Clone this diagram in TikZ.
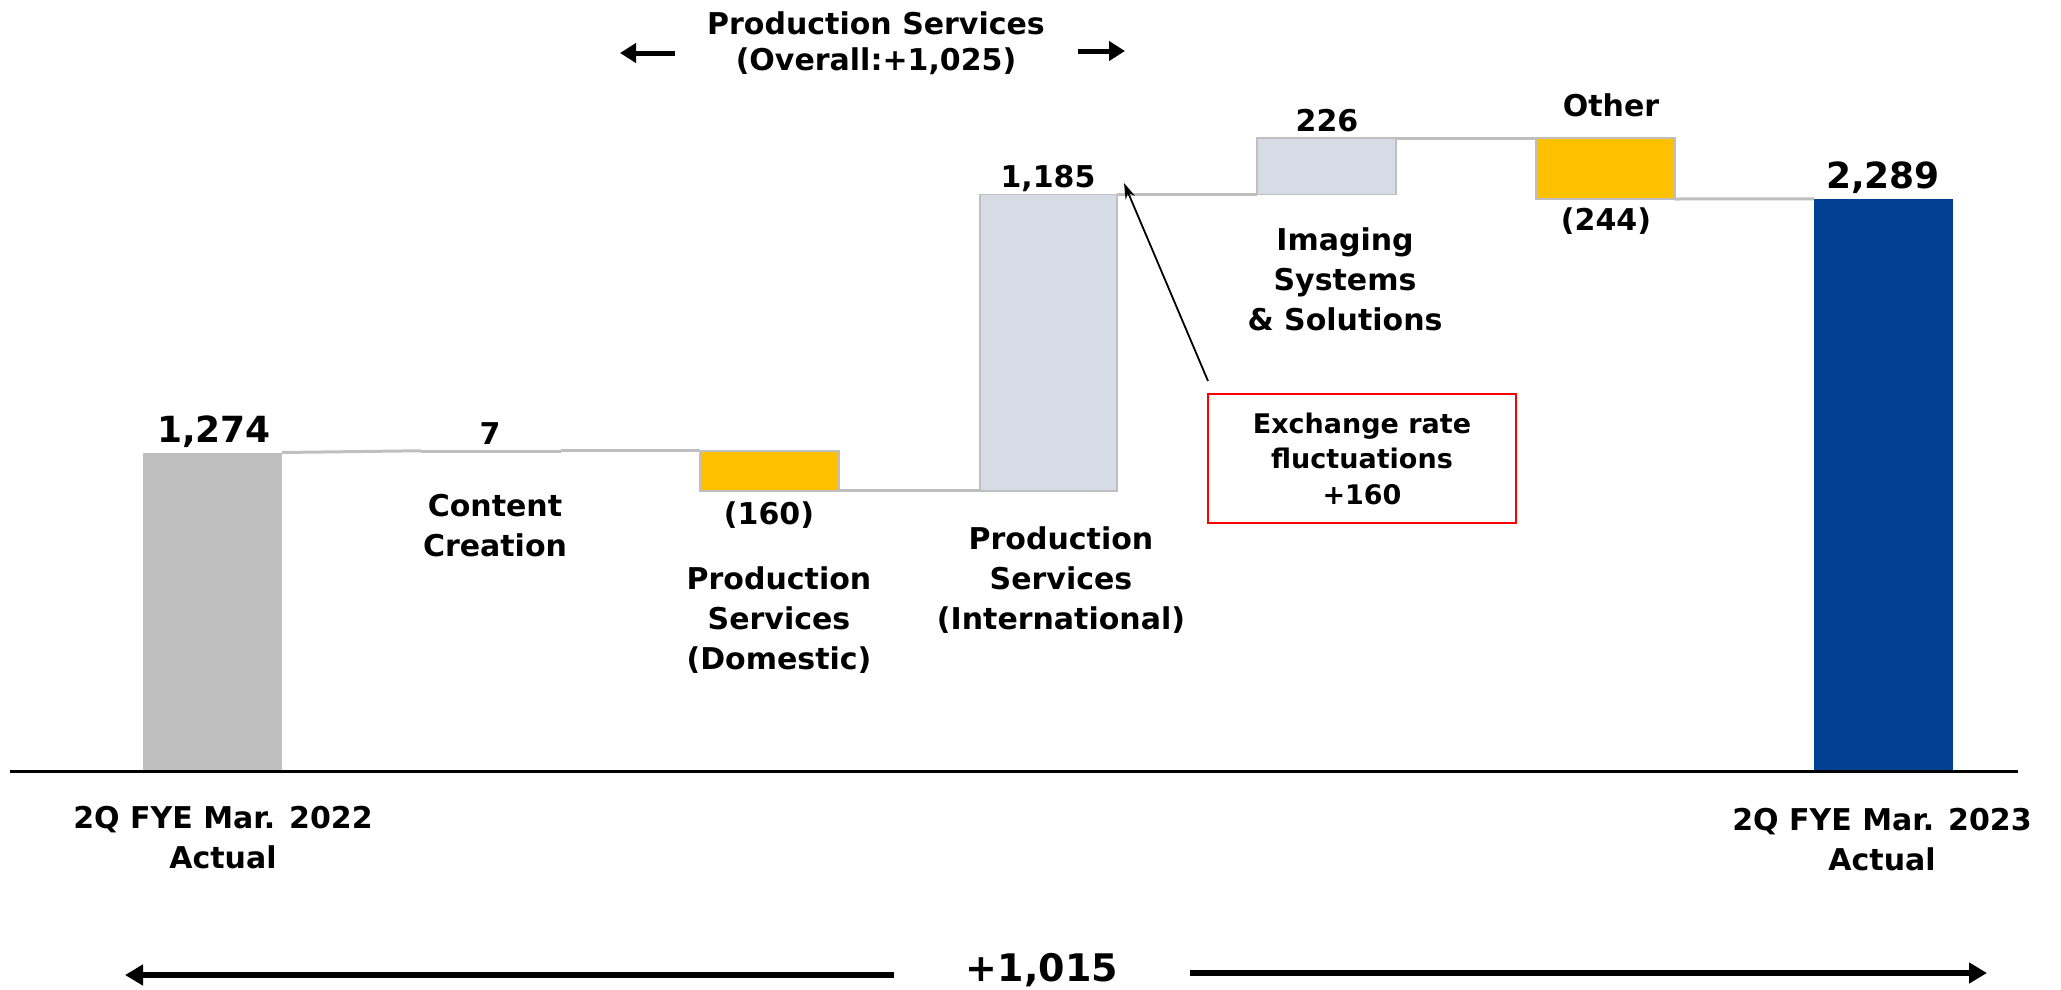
\documentclass[tikz,border=0pt]{standalone}
\usepackage{fontspec}
\setmainfont{DejaVu Sans}
\usetikzlibrary{arrows.meta}
\definecolor{barGray}{HTML}{BFBFBF}
\definecolor{barLight}{HTML}{D6DCE5}
\definecolor{barYellow}{HTML}{FFC000}
\definecolor{barBlue}{HTML}{003F91}
\definecolor{connGray}{HTML}{BFBFBF}
\definecolor{boxRed}{HTML}{FF0000}
\begin{document}
\begin{tikzpicture}[x=1pt,y=-1pt,
  bar/.style={rectangle, anchor=north west, inner sep=0pt, outer sep=0pt, minimum width=139pt},
  outl/.style={draw=connGray, line width=1.5pt},
  conn/.style={draw=connGray, line width=3pt},
  lbl/.style={inner sep=0pt, align=center, font=\bfseries\fontsize{30}{40}\selectfont},
  val/.style={inner sep=0pt, font=\bfseries\fontsize{30}{36}\selectfont},
  bigval/.style={inner sep=0pt, font=\bfseries\fontsize{36}{40}\selectfont},
  thickarrow/.style={line width=6pt, -{Triangle[length=18pt,width=20pt]}},
  smallarrow/.style={line width=5pt, -{Triangle[length=16pt,width=19pt]}},
  note/.style={-{Stealth[length=16pt,width=10pt]}, line width=1.8pt}
]
\useasboundingbox (0,0) rectangle (2061,989);

% bars
\node[bar, fill=barGray, minimum height=318.5pt] (b0) at (143,452.5) {};
\node[bar, fill=barLight, outl, minimum height=1.75pt] (b1) at (421.5,450.75) {};
\node[bar, fill=barYellow, outl, minimum height=40pt] (b2) at (700,450.75) {};
\node[bar, fill=barLight, outl, minimum width=137pt, minimum height=296.25pt] (b3) at (980,194.5) {};
\node[bar, fill=barLight, outl, minimum height=56.5pt] (b4) at (1257,138) {};
\node[bar, fill=barYellow, outl, minimum height=61pt] (b5) at (1536,138) {};
\node[bar, fill=barBlue, minimum height=572.25pt] (b6) at (1814,198.75) {};

% connectors between bars
\draw[conn] (b0.north east) -- (b1.north west);
\draw[conn] (b1.north east) -- (b2.north west);
\draw[conn] (b2.south east) -- (b3.south west);
\draw[conn] (b3.north east) -- (b4.south west);
\draw[conn] (b4.north east) -- (b5.north west);
\draw[conn] (b5.south east) -- (b6.north west);

% axis
\coordinate (axL) at (10,771);
\coordinate (axR) at (2018,771);
\draw[line width=3pt] (axL) -- (axR);

% values
\node[bigval] (v0) at (214,432) {1,274};
\node[val] (v1) at (490,434) {7};
\node[val] (v2) at (769,515) {(160)};
\node[val] (v3) at (1048,178) {1,185};
\node[val] (v4) at (1327,121) {226};
\node[val] (v5) at (1606,221) {(244)};
\node[bigval] (v6) at (1883,178) {2,289};

% category labels
\node[lbl] (l1) at (495,526) {Content\\Creation};
\node[lbl] (l2) at (779,620) {Production\\Services\\(Domestic)};
\node[lbl] (l3) at (1061,580) {Production\\Services\\(International)};
\node[lbl] (l4) at (1345,279.5) {Imaging\\Systems\\\&\ Solutions};
\node[lbl] (l5) at (1611,105) {Other};
\node[lbl] (l0) at (223,838) {2Q FYE Mar. 2022\\Actual};
\node[lbl] (l6) at (1882,840) {2Q FYE Mar. 2023\\Actual};

% production services header
\node[lbl, font=\bfseries\fontsize{30}{36}\selectfont] (ps) at (876,43) {Production Services\\(Overall:+1,025)};
\coordinate (psLs) at (675,53);
\coordinate (psLe) at (620,53);
\coordinate (psRs) at (1078,51);
\coordinate (psRe) at (1125,51);
\draw[smallarrow] (psLs) -- (psLe);
\draw[smallarrow] (psRs) -- (psRe);

% exchange rate box
\node[draw=boxRed, line width=2pt, minimum width=308pt, minimum height=129pt, inner sep=0pt,
      align=center, font=\bfseries\fontsize{27}{35.5}\selectfont] (fx) at (1362,458.5)
      {Exchange rate\\fluctuations\\+160};
\coordinate (fxs) at (1208,381);
\coordinate (fxe) at (1124,183);
\draw[note] (fxs) -- (fxe);

% total
\node[inner sep=0pt, font=\bfseries\fontsize{38}{42}\selectfont] (tot) at (1042,970) {+1,015};
\coordinate (tLs) at (894,975);
\coordinate (tLe) at (125,975);
\coordinate (tRs) at (1190,973);
\coordinate (tRe) at (1987,973);
\draw[thickarrow] (tLs) -- (tLe);
\draw[thickarrow] (tRs) -- (tRe);
\end{tikzpicture}
\end{document}
